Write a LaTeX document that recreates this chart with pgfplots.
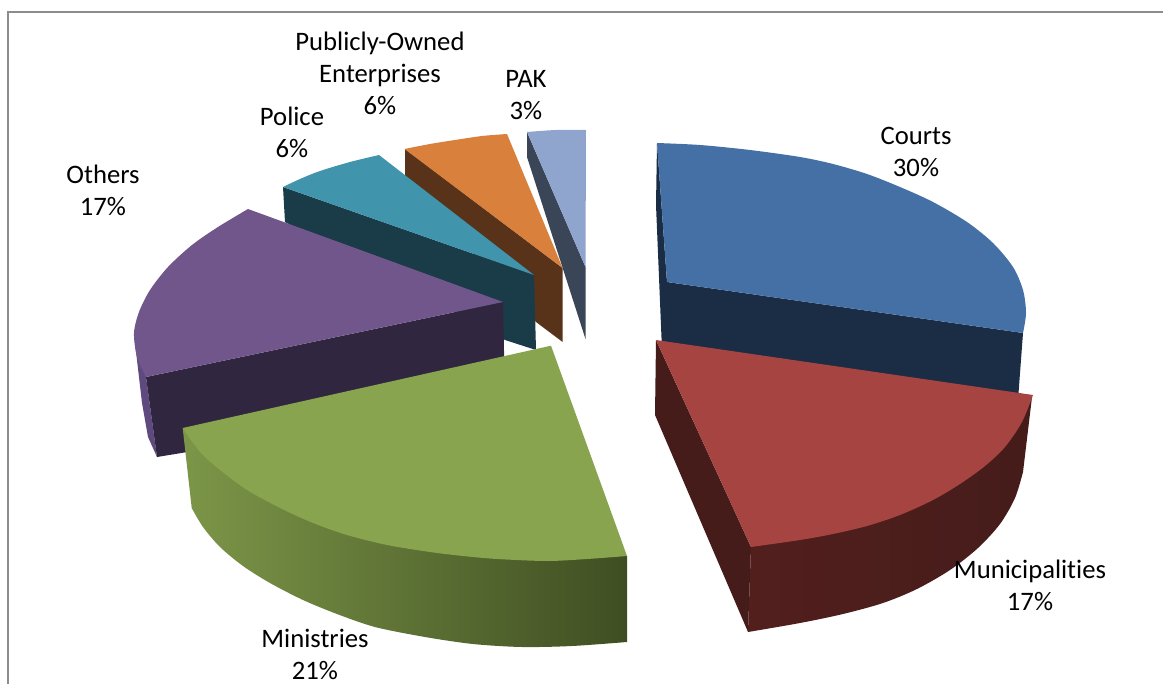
\documentclass[border=0pt]{standalone}
\usepackage{fontspec}
\setmainfont[Ligatures=CommonOff]{Carlito}
\usepackage{pgfplots}
\pgfplotsset{compat=1.18}
\definecolor{blueT}{HTML}{4570A6}
\definecolor{blueS}{HTML}{1B2D45}
\definecolor{redT}{HTML}{A54441}
\definecolor{redS}{HTML}{451C1A}
\definecolor{redL}{HTML}{521F1D}
\definecolor{greenT}{HTML}{88A44E}
\definecolor{greenA}{HTML}{7C9648}
\definecolor{greenB}{HTML}{5F7836}
\definecolor{greenC}{HTML}{3F4E22}
\definecolor{purpT}{HTML}{70568B}
\definecolor{purpS}{HTML}{30263F}
\definecolor{purpL}{HTML}{5F4A80}
\definecolor{tealT}{HTML}{4095AD}
\definecolor{tealS}{HTML}{1A3B48}
\definecolor{orT}{HTML}{D8803C}
\definecolor{orS}{HTML}{58331A}
\definecolor{pakT}{HTML}{8FA5CE}
\definecolor{pakS}{HTML}{3B4558}
\definecolor{frameC}{HTML}{8C8C8C}
\begin{document}
\begin{tikzpicture}
\begin{axis}[
    scale only axis,
    width=872.25pt, height=513pt,
    xmin=0, xmax=1163,
    ymin=0, ymax=684,
    y dir=reverse,
    ticks=none,
    axis line style={draw=none},
    nodes={font=\fontsize{20}{24}\selectfont, align=center, text=black}
]
% frame
\addplot [color=frameC, line width=1pt] coordinates {(8,684)(8,12)(1163,12)};
% PAK
\addplot [fill=pakS, draw=none] coordinates {(527,132)(527,157)(585.5,339)(585.5,267)} --cycle;
\addplot [fill=pakT, draw=none, smooth] coordinates {(527,132)(556,130)(586,130)} --(axis cs:585.5,267) --cycle;
% Publicly-Owned Enterprises
\addplot [fill=orS, draw=none] coordinates {(405,149)(405,180)(536,322)(562.6,342)(562.6,268)} --cycle;
\addplot [fill=orT, draw=none, smooth] coordinates {(404.5,149)(430,144)(455,140)(482,136)(507,134)} --(axis cs:562.6,268) --cycle;
% Police
\addplot [fill=tealS, draw=none] coordinates {(283,187)(285,222)(505,340)(536,350)(534,275)} --cycle;
\addplot [fill=tealT, draw=none, smooth] coordinates {(283,187)(300,179)(320,171)(350,162)(379,155)} --(axis cs:534,275) --cycle;
% Others
\addplot [fill=purpL, draw=none] coordinates {(134,333)(135,343)(142,403)(148,437)(157,457)(146,377)} --cycle;
\addplot [fill=purpS, draw=none] coordinates {(146,377)(503,302)(505,400)(157,457)} --cycle;
\addplot [fill=purpT, draw=none, smooth] coordinates {(248,209)(218,227)(192,245)(168,267)(150,290)(139,312)(134,333)(137,357)(146,377)} --(axis cs:503,302) --cycle;
% Ministries
\addplot [left color=greenA, middle color=greenB, right color=greenC, draw=none, smooth] coordinates {(191.7,508)(203,527)(220,547)(243,566)(270,583)(303,600)(337,614)(375,627)(425,637)(473,644)(522,647)(572,646)(627,642)} --(axis cs:627,556) --(axis cs:182.7,428) --cycle;
\addplot [fill=greenT, draw=none, smooth] coordinates {(182.7,428)(200,452)(220,470)(247,490)(280,508)(313,523)(347,535)(387,545)(430,552)(463,556)(497,559)(547,561)(587,559)(627,556)} --(axis cs:551,345.7) --cycle;
% Courts
\addplot [fill=blueS, draw=none] coordinates {(657,143)(656,205)(662,350)(1018,400)(1023,333)(667,282)} --cycle;
\addplot [fill=blueT, draw=none, smooth] coordinates {(657,143)(700,145)(750,150)(800,157)(833,164)(867,174)(900,187)(933,202)(967,222)(993,243)(1013,267)(1023,290)(1026,313)(1023,333)} --(axis cs:667,282) --cycle;
% Municipalities
\addplot [left color=redL, middle color=redS, right color=redS, draw=none, smooth] coordinates {(748,632)(800,623)(843,614)(883,603)(917,589)(950,570)(978,548)(1000,524)(1015,498)(1023,472)} --(axis cs:1032,397) --(axis cs:751,547) --cycle;
\addplot [fill=redS, draw=none] coordinates {(656,340)(655,415)(748,632)(751,547)} --cycle;
\addplot [fill=redT, draw=none, smooth] coordinates {(1033,395)(1022,422)(1005,447)(985,466)(960,484)(933,500)(900,515)(867,526)(833,534)(800,540)(751,547)} --(axis cs:656,340) --cycle;
% labels
\node at (axis cs:380,73) {Publicly-Owned\\Enterprises\\6\%};
\node at (axis cs:526,95) {PAK\\3\%};
\node at (axis cs:292,132) {Police\\6\%};
\node at (axis cs:103,190) {Others\\17\%};
\node at (axis cs:916,152) {Courts\\30\%};
\node at (axis cs:1030,585) {Municipalities\\17\%};
\node at (axis cs:315,654) {Ministries\\21\%};
\end{axis}
\end{tikzpicture}
\end{document}
